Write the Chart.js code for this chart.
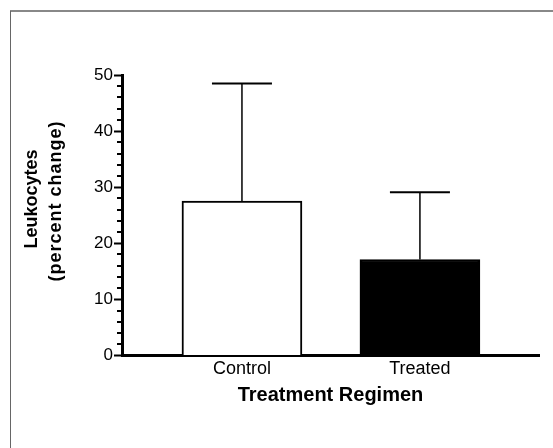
<!DOCTYPE html>
<html>
<head>
<meta charset="utf-8">
<script src="https://cdn.jsdelivr.net/npm/chart.js@4/dist/chart.umd.min.js"></script>
<style>
  body { margin: 0; background: #fff; }
  canvas { display: block; }
</style>
</head>
<body>
<canvas id="leukoChart" width="553" height="448"></canvas>
<script>
// Values
const categories = ['Control', 'Treated'];
const means = [27.5, 17.1];
const sem = [21.0, 12.0];
const barColors = ['#ffffff', '#000000'];
const yTitleLines = ['Leukocytes', '(percent change)'];
const xTitle = 'Treatment Regimen';

const FONT = '"Liberation Sans", Arial, sans-serif';

// white page + grey scan frame
const framePlugin = {
    id: 'frame',
    beforeDraw(chart) {
        const ctx = chart.ctx;
        ctx.save();
        ctx.fillStyle = '#fff';
        ctx.fillRect(0, 0, chart.width, chart.height);
        ctx.strokeStyle = '#888';
        ctx.lineWidth = 2;
        ctx.beginPath();
        ctx.moveTo(10, 11);
        ctx.lineTo(chart.width, 11);
        ctx.stroke();
        ctx.lineWidth = 1;
        ctx.strokeStyle = '#666';
        ctx.beginPath();
        ctx.moveTo(10.5, 11);
        ctx.lineTo(10.5, chart.height);
        ctx.stroke();
        ctx.restore();
    }
};

// upper error bars + minor y ticks + y title
const extrasPlugin = {
    id: 'extras',
    afterDatasetsDraw(chart) {
        const ctx = chart.ctx;
        const x = chart.scales.x;
        const y = chart.scales.y;
        ctx.save();
        ctx.strokeStyle = '#000';
        for (let i = 0; i < means.length; i++) {
            const px = x.getPixelForValue(i);
            const top = y.getPixelForValue(means[i]);
            const hi = y.getPixelForValue(means[i] + sem[i]);
            ctx.lineWidth = 1.5;
            ctx.beginPath();
            ctx.moveTo(px, top);
            ctx.lineTo(px, hi);
            ctx.stroke();
            ctx.lineWidth = 2;
            ctx.beginPath();
            ctx.moveTo(px - 30, hi);
            ctx.lineTo(px + 30, hi);
            ctx.stroke();
        }
        // minor ticks every 2
        ctx.lineWidth = 2;
        const left = chart.chartArea.left;
        for (let v = y.min; v <= y.max; v += 2) {
            if (v % 10 === 0) continue;
            const py = Math.round(y.getPixelForValue(v));
            ctx.beginPath();
            ctx.moveTo(left - 5, py);
            ctx.lineTo(left, py);
            ctx.stroke();
        }
        // y axis title, two lines
        ctx.fillStyle = '#000';
        ctx.font = 'bold 18px ' + FONT;
        ctx.textAlign = 'center';
        ctx.textBaseline = 'middle';
        ctx.translate(32, 199);
        ctx.rotate(-Math.PI / 2);
        ctx.fillText(yTitleLines[0], 0, 0);
        ctx.letterSpacing = '1px';
        ctx.fillText(yTitleLines[1], -2, 24);
        ctx.restore();
    }
};

new Chart(document.getElementById('leukoChart'), {
    type: 'bar',
    data: {
        datasets: [{
            data: categories.map((c, i) => ({ x: i, y: means[i] })),
            backgroundColor: barColors,
            borderColor: '#000',
            borderWidth: 2,
            borderSkipped: 'bottom',
            barThickness: 120
        }]
    },
    plugins: [framePlugin, extrasPlugin],
    options: {
        responsive: false,
        animation: false,
        layout: { padding: { top: 75, right: 14, bottom: 40.6, left: 0 } },
        plugins: {
            legend: { display: false },
            tooltip: { enabled: false }
        },
        scales: {
            x: {
                type: 'linear',
                offset: false,
                min: -0.674,
                max: 1.669,
                afterBuildTicks: scale => {
                    scale.ticks = categories.map((c, i) => ({ value: i }));
                },
                grid: { display: false, drawTicks: false, offset: false },
                border: { display: true, width: 3, color: '#000' },
                ticks: {
                    padding: 5,
                    color: '#000',
                    font: { family: FONT, size: 18, lineHeight: 1.0 },
                    callback: v => categories[v]
                },
                title: {
                    display: true,
                    text: xTitle,
                    color: '#000',
                    font: { family: FONT, size: 20, weight: 'bold' },
                    padding: { top: 0, bottom: 0 }
                }
            },
            y: {
                min: 0,
                max: 50,
                afterFit: scale => { scale.width = 122; },
                grid: {
                    drawOnChartArea: false,
                    tickLength: 8,
                    tickWidth: 2,
                    tickColor: '#000'
                },
                border: { display: true, width: 3, color: '#000' },
                ticks: {
                    stepSize: 10,
                    padding: 1,
                    color: '#000',
                    font: { family: FONT, size: 17 }
                }
            }
        }
    }
});
</script>
</body>
</html>
